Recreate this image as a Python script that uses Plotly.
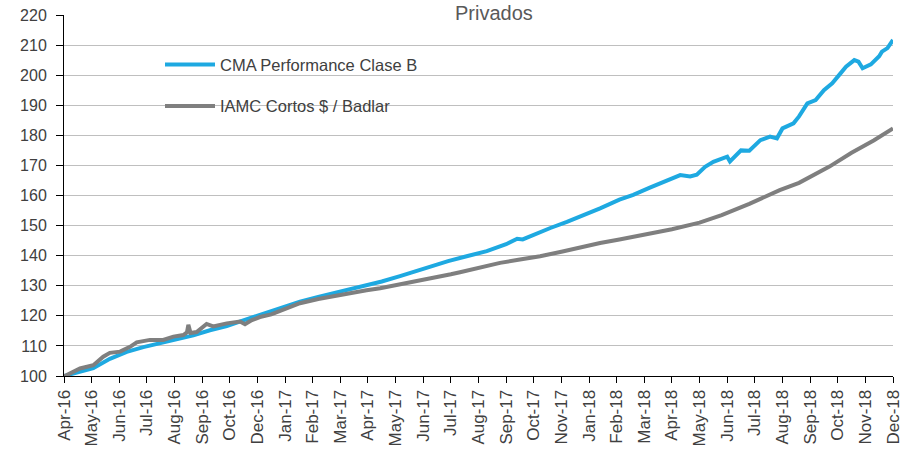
import plotly.graph_objects as go

# Month labels shown on the category axis (index 0..30)
tick_labels = ["Apr-16", "May-16", "Jun-16", "Jul-16", "Aug-16", "Sep-16", "Oct-16", "Dec-16",
               "Jan-17", "Feb-17", "Mar-17", "Apr-17", "May-17", "Jun-17", "Jul-17", "Aug-17",
               "Sep-17", "Oct-17", "Nov-17", "Jan-18", "Feb-18", "Mar-18", "Apr-18", "May-18",
               "Jun-18", "Jul-18", "Aug-18", "Sep-18", "Oct-18", "Nov-18", "Dec-18"]
tick_positions = list(range(len(tick_labels)))

# CMA Performance Clase B (position on the category axis, index value)
cma_x = [0, 0.5, 1.06, 1.66, 2.27, 2.87, 3.47, 4.08, 4.68, 5.28, 5.89, 6.49, 7.09, 7.8, 8.54,
         9.2, 9.75, 10.35, 10.95, 11.5, 12.16, 12.8, 13.37, 13.9, 14.57, 15.3, 16.0, 16.4, 16.6,
         17.0, 17.23, 17.6, 18.2, 18.7, 19.4, 20.1, 20.6, 21.2, 21.8, 22.3, 22.66, 22.9, 23.2,
         23.5, 24.0, 24.1, 24.5, 24.8, 25.2, 25.55, 25.8, 26.0, 26.4, 26.6, 26.9, 27.2, 27.5,
         27.8, 28.1, 28.3, 28.6, 28.75, 28.9, 29.2, 29.5, 29.6, 29.8, 29.9, 30.0]
cma_y = [100.0, 101.3, 102.6, 105.7, 108.0, 109.6, 110.8, 112.0, 113.5, 115.2, 116.6, 118.5,
         120.4, 122.5, 124.7, 126.3, 127.5, 128.9, 130.2, 131.4, 133.2, 135.0, 136.8, 138.2,
         139.8, 141.5, 143.8, 145.6, 145.4, 147.0, 148.0, 149.2, 151.2, 153.0, 155.7, 158.6,
         160.2, 162.6, 164.8, 166.8, 166.3, 166.9, 169.5, 171.2, 172.9, 171.3, 175.0, 174.9,
         178.4, 179.6, 179.0, 182.3, 184.0, 186.3, 190.6, 191.7, 195.0, 197.3, 200.6, 202.8,
         205.0, 204.5, 202.3, 203.6, 206.3, 207.8, 209.0, 210.6, 211.7]

# IAMC Cortos $ / Badlar
iamc_x = [0, 0.1, 0.58, 1.06, 1.42, 1.66, 2.03, 2.39, 2.63, 3.11, 3.59, 3.96, 4.32, 4.45, 4.5,
          4.58, 4.8, 5.16, 5.4, 5.89, 6.37, 6.55, 6.8, 7.09, 7.5, 7.9, 8.54, 9.2, 9.75, 10.35,
          10.95, 11.44, 12.16, 12.8, 13.37, 14.0, 14.33, 15.0, 15.78, 16.5, 17.23, 18.0, 18.6,
          19.4, 20.1, 21.2, 22.0, 23.0, 23.8, 24.8, 25.9, 26.6, 27.7, 28.5, 29.3, 30.0]
iamc_y = [100.0, 100.3, 102.5, 103.6, 106.4, 107.7, 108.1, 109.7, 111.2, 112.0, 112.0, 113.1,
          113.6, 114.5, 117.0, 114.3, 114.6, 117.3, 116.5, 117.5, 118.1, 117.2, 118.6, 119.6,
          120.5, 121.8, 124.2, 125.6, 126.6, 127.6, 128.5, 129.2, 130.4, 131.6, 132.7, 133.8,
          134.5, 135.9, 137.6, 138.7, 139.8, 141.3, 142.6, 144.2, 145.4, 147.2, 148.8, 151.0,
          153.5, 157.2, 161.8, 164.2, 169.6, 174.2, 178.3, 182.3]

FONT = "Liberation Sans, Arial, sans-serif"

fig = go.Figure()
fig.add_trace(go.Scatter(x=cma_x, y=cma_y, mode="lines", name="CMA Performance Clase B",
                         line=dict(color="#1EA9E1", width=4), legendgroup="a"))
fig.add_trace(go.Scatter(x=iamc_x, y=iamc_y, mode="lines", name="IAMC Cortos $ / Badlar",
                         line=dict(color="#7F7F7F", width=4), legendgroup="b"))

fig.update_layout(
    width=902, height=451,
    margin=dict(l=64, r=9, t=15, b=75),
    paper_bgcolor="white", plot_bgcolor="white",
    font=dict(family=FONT, color="#404040"),
    showlegend=True,
    legend=dict(x=0.1158, y=0.9105, xanchor="left", yanchor="top",
                bgcolor="rgba(0,0,0,0)", font=dict(size=16.5, family=FONT, color="#404040"),
                traceorder="grouped", tracegroupgap=17, itemwidth=50),
    annotations=[dict(text="Privados", x=0.519, y=1.0, yshift=15, xref="paper", yref="paper",
                      xanchor="center", yanchor="top", showarrow=False,
                      font=dict(size=20, family=FONT, color="#595959"))],
    shapes=[dict(type="rect", xref="paper", yref="paper", x0=0.04, x1=0.516, y0=0.709, y1=0.972,
                 fillcolor="white", line=dict(width=0), layer="between")],
)
fig.update_xaxes(range=[0, 30], tickmode="array", tickvals=tick_positions, ticktext=tick_labels,
                 tickangle=-90, ticks="outside", ticklen=6, tickcolor="black",
                 showline=True, linecolor="black", linewidth=1, showgrid=False, zeroline=False,
                 automargin=False, ticklabeloverflow="allow",
                 tickfont=dict(size=17, family=FONT, color="#404040"))
fig.update_yaxes(range=[100, 220], dtick=10, tick0=100, ticks="outside", ticklen=7,
                 tickcolor="black", showline=True, linecolor="black", linewidth=1,
                 showgrid=True, gridcolor="#BFBFBF", gridwidth=1, zeroline=False,
                 automargin=False, ticklabelstandoff=6,
                 tickfont=dict(size=16, family=FONT, color="#404040"))

fig.write_html("out.html", config={"displayModeBar": False},
               post_script="document.body.style.margin='0';document.body.style.overflow='hidden';")
